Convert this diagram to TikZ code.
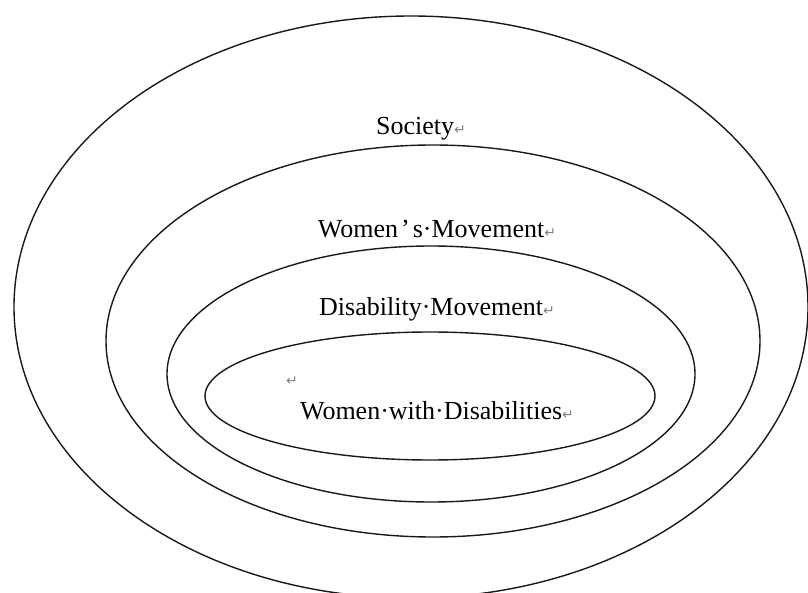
\documentclass[tikz,border=0pt]{standalone}
\usepackage{fontspec}
\setmainfont{Liberation Serif}
\newfontfamily\symfont{DejaVu Sans}
\definecolor{markgray}{gray}{0.5}
\newcommand{\pmark}{{\symfont\fontsize{14}{14}\selectfont\textcolor{markgray}{↵}}}

\begin{document}
\begin{tikzpicture}[x=1pt,y=-1pt,
  ring/.style={line width=1.4pt,draw=black!90},
  ringtext/.style={inner sep=0pt,anchor=base,font=\fontsize{26}{30}\selectfont}]
  \useasboundingbox (0,0) rectangle (808,593);
  \clip (0,0) rectangle (808,593);
  % nested circles, outermost first
  \draw[ring] (411,307) ellipse [x radius=397,y radius=291];
  \draw[ring] (433,341) ellipse [x radius=327,y radius=196];
  \draw[ring] (431,374) ellipse [x radius=264,y radius=128];
  \draw[ring] (430,396) ellipse [x radius=225,y radius=64];
  % labels
  \node[ringtext] (society) at (421,135) {Society\pmark};
  \node[ringtext] (womens) at (437,237.5) {Women\kern3pt’\kern3pt s·Movement\pmark};
  \node[ringtext] (disab) at (437,316) {Disability·Movement\pmark};
  \node (blank) at (292,381) {\pmark};
  \node[ringtext] (wwd) at (437,419) {Women·with·Disabilities\pmark};
\end{tikzpicture}
\end{document}
